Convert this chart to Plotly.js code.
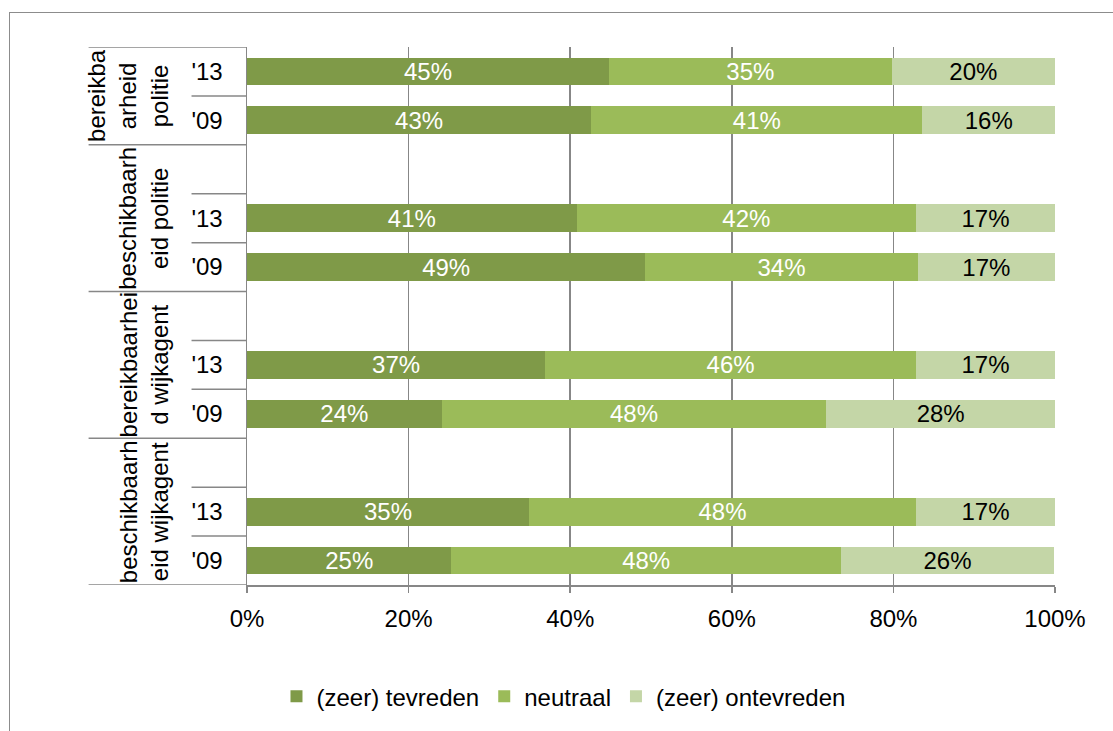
<!DOCTYPE html>
<html>
<head>
<meta charset="utf-8">
<script src="https://cdn.plot.ly/plotly-3.0.1.min.js"></script>
<style>
  html, body { margin: 0; padding: 0; width: 1113px; height: 731px; overflow: hidden; background: #ffffff; }
  #frame { position: absolute; left: 9px; top: 12px; width: 1300px; height: 900px; border: 1.5px solid #8c8c8c; box-sizing: border-box; }
  #chart { position: absolute; left: 0; top: 0; width: 1113px; height: 731px; }
</style>
</head>
<body>
<div id="frame"></div>
<div id="chart"></div>
<script>
// ---- data ----
const groupLabels = [
  'bereikba<br>arheid<br>politie',
  'beschikbaarh<br>eid politie',
  'bereikbaarhei<br>d wijkagent',
  'beschikbaarh<br>eid wijkagent'
];
const years = ["'13", "'09"];
// rows in reading order: group 1 '13, group 1 '09, group 2 '13, ...
const tevreden   = [44.8, 42.6, 40.8, 49.3, 36.9, 24.1, 34.9, 25.3];
const neutraal   = [35.0, 41.0, 42.0, 33.7, 45.9, 47.6, 47.9, 48.2];
const ontevreden = [20.2, 16.4, 17.2, 17.0, 17.2, 28.3, 17.2, 26.4];
const seriesNames = ['(zeer) tevreden', 'neutraal', '(zeer) ontevreden'];
const xTickVals = [0, 20, 40, 60, 80, 100];

// ---- layout helpers ----
const colors = ['#7f9a48', '#9bbb59', '#c4d6a7'];
const textColors = ['#ffffff', '#ffffff', '#000000'];
const FONT = 'Liberation Sans, Arial, sans-serif';
const FS = 24;
const gray = '#878787';

// slot positions: every group after the first starts with an empty slot
const rowPos = [];
const rowText = [];
const groupSpans = [];
let slot = 0;
groupLabels.forEach((g, gi) => {
  const start = slot;
  if (gi > 0) slot += 1;
  years.forEach(y => { rowPos.push(slot); rowText.push(y); slot += 1; });
  groupSpans.push([start - 0.5, slot - 0.5]);
});
const nSlots = slot;

const allSeries = [tevreden, neutraal, ontevreden];
const traces = allSeries.map((vals, i) => ({
  type: 'bar',
  orientation: 'h',
  name: seriesNames[i],
  x: vals,
  y: rowPos,
  marker: { color: colors[i], line: { width: 0 } },
  text: vals.map(v => Math.round(v) + '%'),
  textposition: 'inside',
  insidetextanchor: 'middle',
  textangle: 0,
  constraintext: 'none',
  textfont: { family: FONT, size: FS, color: textColors[i] },
  hoverinfo: 'skip'
}));

// plot area in pixels
const W = 1113, H = 731;
const m = { l: 246.5, r: W - 1055, t: 47, b: H - 592 };
const plotW = W - m.l - m.r;
const px = p => (p - m.l) / plotW;   // pixel -> paper x

// category axis divider lines
const shapes = [];
const groupBounds = new Set();
groupSpans.forEach(s => { groupBounds.add(s[0]); groupBounds.add(s[1]); });
for (let b = -0.5; b <= nSlots - 0.5 + 1e-9; b += 1) {
  const long = groupBounds.has(b);
  shapes.push({
    type: 'line', xref: 'paper', yref: 'y',
    x0: px(long ? 88 : 191), x1: 0, y0: b, y1: b,
    line: { color: gray, width: 1.5 }
  });
}

const annotations = groupLabels.map((g, gi) => ({
  xref: 'paper', yref: 'y',
  x: px(174), xanchor: 'right',
  y: (groupSpans[gi][0] + groupSpans[gi][1]) / 2, yanchor: 'middle',
  text: g, textangle: -90, showarrow: false,
  font: { family: FONT, size: FS, color: '#000000' }
}));

const layout = {
  width: W, height: H,
  margin: m,
  paper_bgcolor: 'rgba(0,0,0,0)',
  plot_bgcolor: 'rgba(0,0,0,0)',
  barmode: 'stack',
  bargap: 0.43,
  showlegend: true,
  legend: {
    orientation: 'h', x: px(276), xanchor: 'left', y: (592 - 705) / (592 - 47), yanchor: 'middle',
    font: { family: FONT, size: FS, color: '#000000' },
    traceorder: 'normal'
  },
  xaxis: {
    range: [0, 100], tickvals: xTickVals, ticktext: xTickVals.map(v => v + '%'),
    showgrid: true, gridcolor: gray, gridwidth: 1.5,
    showline: true, linecolor: gray, linewidth: 1.5,
    ticks: 'outside', ticklen: 6, tickcolor: gray, tickwidth: 1.5,
    zeroline: false, fixedrange: true,
    tickfont: { family: FONT, size: FS, color: '#000000' },
    ticklabelstandoff: 6
  },
  yaxis: {
    range: [nSlots - 0.5, -0.5],
    tickvals: rowPos, ticktext: rowText,
    showgrid: false, zeroline: false,
    showline: true, linecolor: gray, linewidth: 1.5,
    ticks: '', ticklabelstandoff: 18,
    tickfont: { family: FONT, size: FS, color: '#000000' },
    fixedrange: true
  },
  shapes: shapes,
  annotations: annotations
};

Plotly.newPlot('chart', traces, layout, { displayModeBar: false, staticPlot: true });
</script>
</body>
</html>
